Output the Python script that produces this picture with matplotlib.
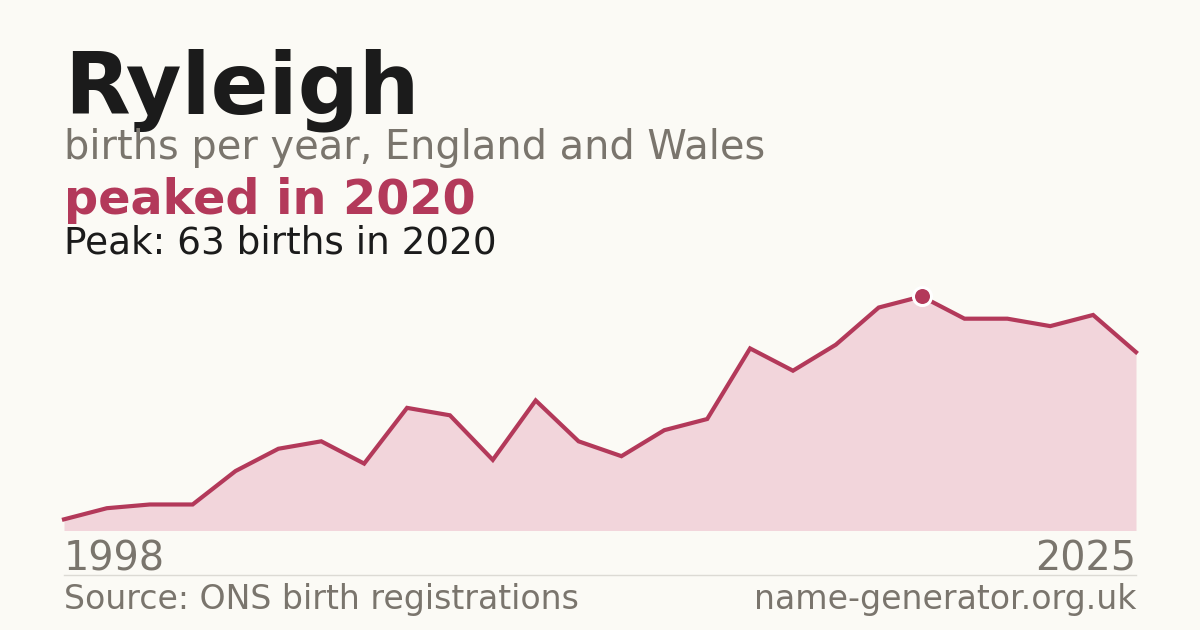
import matplotlib
matplotlib.use("Agg")
import matplotlib.pyplot as plt
import numpy as np

# ---- data ----
name = "Ryleigh"
years = [1998, 2000] + list(range(2002, 2026))
births = [3, 6, 7, 7, 16, 22, 24, 18, 33, 31, 19, 35, 24, 20, 27, 30,
          49, 43, 50, 60, 63, 57, 57, 55, 58, 48]
peak_year = 2020
peak_value = 63

# ---- style ----
BG = "#fbfaf5"
INK = "#1b1b1b"
GREY = "#7a756d"
CRIMSON = "#b3395a"
FILL = "#f2d5db"
RULE = "#dcdad4"

plt.rcParams['font.family'] = ['DejaVu Sans']
W, H = 1200, 630
fig = plt.figure(figsize=(W / 100, H / 100), dpi=100, facecolor=BG)

def px(x, y):
    return x / W, 1 - y / H

left, right = 64, 1136
base_y, top_y = 530.5, 280
ax = fig.add_axes([left / W, (H - base_y) / H, (right - left) / W, (base_y - top_y) / H])
ax.set_facecolor(BG)
idx = np.arange(len(years))
ax.fill_between(idx, births, 0, color=FILL, lw=0)
ax.plot(idx, births, color=CRIMSON, lw=3.0, solid_joinstyle='miter', clip_on=False)
pi = years.index(peak_year)
ax.plot([idx[pi]], [births[pi]], 'o', ms=13, mfc=CRIMSON, mec="white", mew=2.2, clip_on=False, zorder=5)
ax.set_xlim(0, len(years) - 1)
ax.set_ylim(0, peak_value * 1.07)
ax.axis('off')

# ---- texts ----
fig.text(*px(left, 113.5), name, fontsize=61.5, fontweight='bold', color=INK, va='baseline', ha='left')
fig.text(*px(left, 159.5), "births per year, England and Wales", fontsize=28.7, color=GREY, va='baseline', ha='left')
fig.text(*px(left, 213.5), f"peaked in {peak_year}", fontsize=34.4, fontweight='bold', color=CRIMSON, va='baseline', ha='left')
fig.text(*px(left, 253), f"Peak: {peak_value} births in {peak_year}", fontsize=26.9, color=INK, va='baseline', ha='left')

fig.text(*px(left, 570.5), str(years[0]), fontsize=28.6, color=GREY, va='baseline', ha='left')
fig.text(*px(right, 570.5), str(years[-1]), fontsize=28.6, color=GREY, va='baseline', ha='right')

fig.add_artist(plt.Line2D([left / W, right / W], [1 - 574.5 / H] * 2, color=RULE, lw=1))

fig.text(*px(left, 608.5), "Source: ONS birth registrations", fontsize=23.9, color=GREY, va='baseline', ha='left')
fig.text(*px(right, 608.5), "name-generator.org.uk", fontsize=23.9, color=GREY, va='baseline', ha='right')

fig.savefig("out.png", dpi=100, facecolor=BG)
